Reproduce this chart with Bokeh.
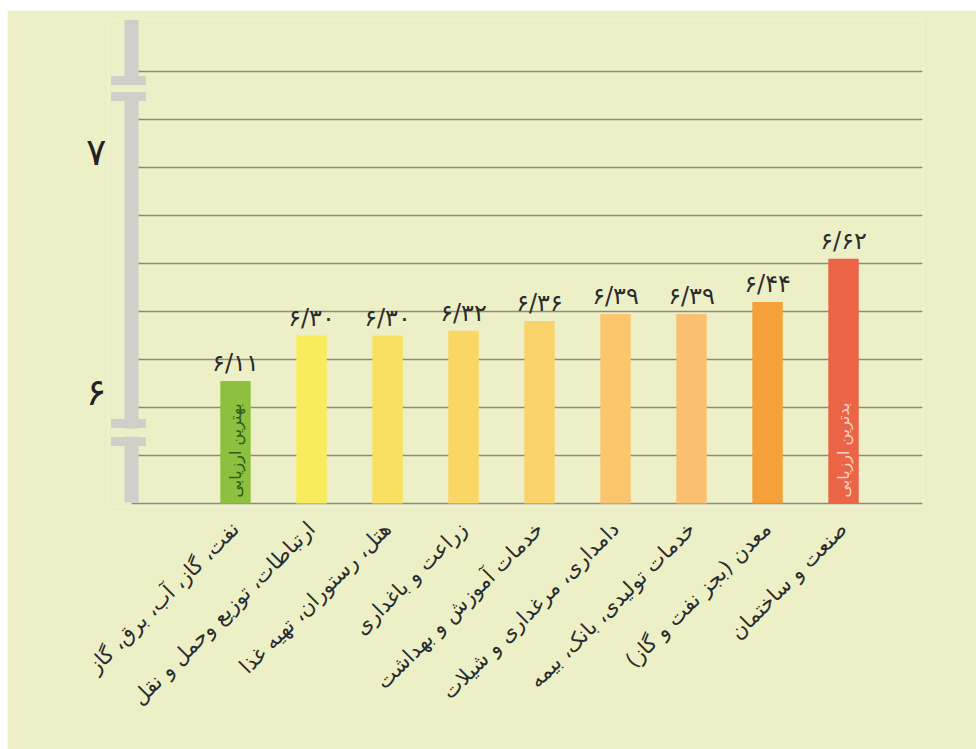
from math import pi
from bokeh.plotting import figure
from bokeh.models import Range1d, FixedTicker
from bokeh.core.properties import value
from bokeh.embed import file_html
from bokeh.resources import INLINE

# ---------------- data ----------------
sectors = [
    "نفت، گاز، آب، برق، گاز",
    "ارتباطات، توزیع وحمل و نقل",
    "هتل، رستوران، تهیه غذا",
    "زراعت و باغداری",
    "خدمات آموزش و بهداشت",
    "دامداری، مرغداری و شیلات",
    "خدمات تولیدی، بانک، بیمه",
    "معدن (بجز نفت و گاز)",
    "صنعت و ساختمان",
]
scores = [6.11, 6.30, 6.30, 6.32, 6.36, 6.39, 6.39, 6.44, 6.62]
notes = ["بهترین ارزیابی", "", "", "", "", "", "", "", "بدترین ارزیابی"]
y_tick_values = [6, 7]
y_tick_labels = ["۶", "۷"]
grid_values = [5.6, 5.8, 6.0, 6.2, 6.4, 6.6, 6.8, 7.0, 7.2, 7.4]
base_value = 5.6

# ---------------- styles ----------------
BG = "#EDF0C6"
GRID = "#8C8D7C"
GRAY = "#D2CFCB"
FONT = "DejaVu Sans"
bar_colors = ["#8DC03F", "#F8EC5C", "#F9E060", "#FAD764", "#FAD26A",
              "#FAC56C", "#FBBF72", "#F6A03A", "#EB6446"]
note_colors = ["#2F5A1C"] * 8 + ["#F8D2C2"]

fa = str.maketrans("0123456789", "۰۱۲۳۴۵۶۷۸۹")
score_labels = [f"{v:.2f}".translate(fa).replace(".", "/") for v in scores]
idx = list(range(len(sectors)))

x_start, x_end = -1.671, 9.039
y_start, y_end = 5.5875, 7.6167
axis_x = -1.368          # centre of the grey axis bar

p = figure(width=969, height=739, margin=(10, 0, 0, 7),
           x_range=Range1d(x_start, x_end), y_range=Range1d(y_start, y_end),
           output_backend="svg", toolbar_location=None,
           min_border_left=101, min_border_right=54,
           min_border_top=9, min_border_bottom=243)
p.background_fill_color = BG
p.border_fill_color = BG
p.outline_line_color = None
p.xgrid.visible = False
p.ygrid.visible = False

# grid lines starting at the grey bar
n = len(grid_values)
p.segment(x0=[axis_x] * n, x1=[x_end] * n, y0=grid_values, y1=grid_values,
          line_color=GRID, line_width=1.4)

# grey axis bar with break marks
bar_bottom = 5.604
p.rect(x=[axis_x], y=[(bar_bottom + y_end) / 2], width=14, height=[y_end - bar_bottom],
       width_units="screen", fill_color=GRAY, line_color=None)
p.rect(x=[axis_x, axis_x], y=[7.329, 5.896], width=18, height=8,
       width_units="screen", height_units="screen", fill_color=BG, line_color=None)
p.rect(x=[axis_x - 0.04] * 4, y=[7.3625, 7.296, 5.933, 5.858], width=35, height=9,
       width_units="screen", height_units="screen", fill_color=GRAY, line_color=None)

# bars
p.vbar(x=idx, top=scores, bottom=base_value, width=0.4,
       fill_color=bar_colors, line_color=None)

# value labels
p.text(x=idx, y=scores, text=score_labels, text_align="center", text_baseline="bottom",
       y_offset=-4, text_font=value(FONT), text_font_size="24px", text_color="#2B2B2B")

# notes inside bars
p.text(x=idx, y=[base_value] * len(idx), text=notes, angle=pi / 2,
       text_align="left", text_baseline="middle", y_offset=-6,
       text_font=value(FONT), text_font_size="16px", text_color=note_colors)

# axes
p.yaxis.ticker = FixedTicker(ticks=y_tick_values)
p.yaxis.major_label_overrides = {v: s + "\n" for v, s in zip(y_tick_values, y_tick_labels)}
p.yaxis.axis_line_color = None
p.yaxis.major_tick_line_color = None
p.yaxis.minor_tick_line_color = None
p.yaxis.major_label_text_font = FONT
p.yaxis.major_label_text_font_size = "38px"
p.yaxis.major_label_text_line_height = 0.7
p.yaxis.major_label_text_color = "#222222"
p.yaxis.major_label_standoff = -4

p.xaxis.ticker = FixedTicker(ticks=idx)
p.xaxis.major_label_overrides = {i: s for i, s in zip(idx, sectors)}
p.xaxis.major_label_orientation = pi / 4
p.xaxis.axis_line_color = None
p.xaxis.major_tick_line_color = None
p.xaxis.minor_tick_line_color = None
p.xaxis.major_label_text_font = FONT
p.xaxis.major_label_text_font_size = "21px"
p.xaxis.major_label_text_color = "#2B2B2B"
p.xaxis.major_label_standoff = 13

open("out.html", "w").write(file_html(p, INLINE))
